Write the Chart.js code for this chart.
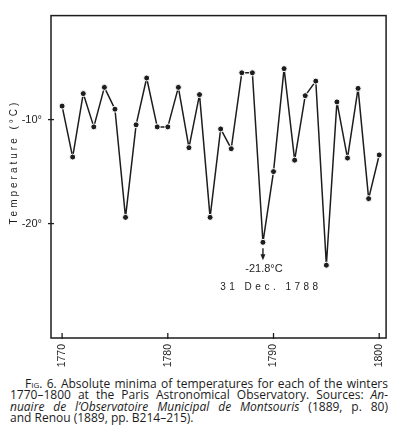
<!DOCTYPE html>
<html>
<head>
<meta charset="utf-8">
<script src="https://cdn.jsdelivr.net/npm/chart.js@4"></script>
<style>
  body { margin: 0; background: #fff; width: 398px; height: 444px; overflow: hidden; position: relative; }
  #wrap { position: absolute; left: 0; top: 0; width: 398px; height: 370px; }
  #caption {
    position: absolute; left: 10px; top: 378px; width: 378px;
    font: 12px/11.3px "Open Sans", Lato, sans-serif; color: #1b1b1b;
  }
  #caption div { white-space: nowrap; text-align: justify; text-align-last: justify; }
  #caption div.first { padding-left: 15px; }
  #caption div.last { text-align-last: left; }
  .sc { font-variant: small-caps; }
</style>
</head>
<body>
<div id="wrap"><canvas id="chart"></canvas></div>
<div id="caption">
  <div class="first"><span class="sc">Fig.</span> 6. Absolute minima of temperatures for each of the winters</div>
  <div>1770–1800 at the Paris Astronomical Observatory. Sources: <i>An-</i></div>
  <div><i>nuaire de l’Observatoire Municipal de Montsouris</i> (1889, p. 80)</div>
  <div class="last">and Renou (1889, pp. B214–215).</div>
</div>
<script>
const years = [1770, 1771, 1772, 1773, 1774, 1775, 1776, 1777, 1778, 1779,
               1780, 1781, 1782, 1783, 1784, 1785, 1786, 1787, 1788, 1789,
               1790, 1791, 1792, 1793, 1794, 1795, 1796, 1797, 1798, 1799, 1800];
const minTemps = [-8.7, -13.6, -7.5, -10.7, -6.9, -9.0, -19.4, -10.5, -6.0, -10.7,
                  -10.7, -6.9, -12.7, -7.6, -19.4, -10.9, -12.8, -5.5, -5.5, -21.8,
                  -15.0, -5.1, -13.9, -7.7, -6.3, -24.0, -8.3, -13.7, -7.0, -17.6, -13.4];
const xTicks = [1770, 1780, 1790, 1800];
const yTicks = [-10, -20];
const recordYear = 1789;
const recordTemp = -21.8;
const recordLabel = '-21.8°C';
const recordDate = '31 Dec. 1788';
const yTitle = 'Temperature (°C)';

const INK = '#1d1d1d';
const SANS = '"Liberation Sans", Arial, sans-serif';

function line(ctx, x1, y1, x2, y2) {
  ctx.beginPath();
  ctx.moveTo(x1, y1);
  ctx.lineTo(x2, y2);
  ctx.stroke();
}

// box, inward ticks, rotated y title and the record annotation
const frame = {
  id: 'frame',
  afterDraw(chart) {
    const { ctx, chartArea: a, scales: { x, y } } = chart;
    ctx.save();
    ctx.strokeStyle = INK;
    ctx.fillStyle = INK;
    ctx.lineWidth = 1.5;
    ctx.strokeRect(a.left, a.top, a.right - a.left, a.bottom - a.top);

    ctx.lineWidth = 1.3;
    xTicks.forEach(v => {
      const px = x.getPixelForValue(v);
      line(ctx, px, a.bottom + 1, px, a.bottom - 5);
    });
    yTicks.forEach(v => {
      const py = y.getPixelForValue(v);
      line(ctx, a.left - 3, py, a.left + 3, py);
    });

    // y title, spaced out like the original
    ctx.save();
    ctx.translate(14, 162);
    ctx.rotate(-Math.PI / 2);
    ctx.font = '10px ' + SANS;
    ctx.letterSpacing = '3px';
    ctx.textAlign = 'center';
    ctx.textBaseline = 'middle';
    ctx.fillText(yTitle, 0, 0);
    ctx.restore();

    // arrow under the record minimum
    const rx = x.getPixelForValue(recordYear);
    const ry = y.getPixelForValue(recordTemp);
    ctx.lineWidth = 1.4;
    line(ctx, rx, ry + 6, rx, ry + 15);
    ctx.beginPath();
    ctx.moveTo(rx - 2.5, ry + 12);
    ctx.lineTo(rx + 2.5, ry + 12);
    ctx.lineTo(rx, ry + 18);
    ctx.closePath();
    ctx.fill();

    ctx.textAlign = 'center';
    ctx.textBaseline = 'middle';
    ctx.font = '11px ' + SANS;
    ctx.fillText(recordLabel, rx + 1, ry + 27);
    ctx.font = '10px ' + SANS;
    ctx.letterSpacing = '3.5px';
    ctx.fillText(recordDate, rx + 8, ry + 45);
    ctx.restore();
  }
};

new Chart(document.getElementById('chart'), {
  type: 'line',
  data: {
    datasets: [{
      data: years.map((yr, i) => ({ x: yr, y: minTemps[i] })),
      borderColor: INK,
      borderWidth: 1.5,
      borderJoinStyle: 'round',
      tension: 0,
      pointRadius: 3,
      pointBackgroundColor: INK,
      pointBorderColor: '#fff',
      pointBorderWidth: 1,
    }]
  },
  options: {
    responsive: true,
    maintainAspectRatio: false,
    animation: false,
    layout: { padding: { left: 0, top: 7, right: 9, bottom: 0 } },
    scales: {
      x: {
        type: 'linear',
        min: 1768.95,
        max: 1800.65,
        afterBuildTicks: s => { s.ticks = xTicks.map(v => ({ value: v })); },
        afterFit: s => { s.height = 32; },
        grid: { display: false, drawTicks: false },
        border: { display: false },
        ticks: {
          minRotation: 90, maxRotation: 90, padding: 6,
          color: INK, font: { family: SANS, size: 10.5 },
          callback: v => String(v)
        }
      },
      y: {
        min: -31,
        max: 0,
        afterBuildTicks: s => { s.ticks = yTicks.map(v => ({ value: v })); },
        afterFit: s => { s.width = 51; },
        grid: { display: false, drawTicks: false },
        border: { display: false },
        ticks: {
          padding: 9,
          color: INK, font: { family: SANS, size: 11 },
          callback: v => v + '°'
        }
      }
    },
    plugins: { legend: { display: false }, tooltip: { enabled: false } }
  },
  plugins: [frame]
});
</script>
</body>
</html>
